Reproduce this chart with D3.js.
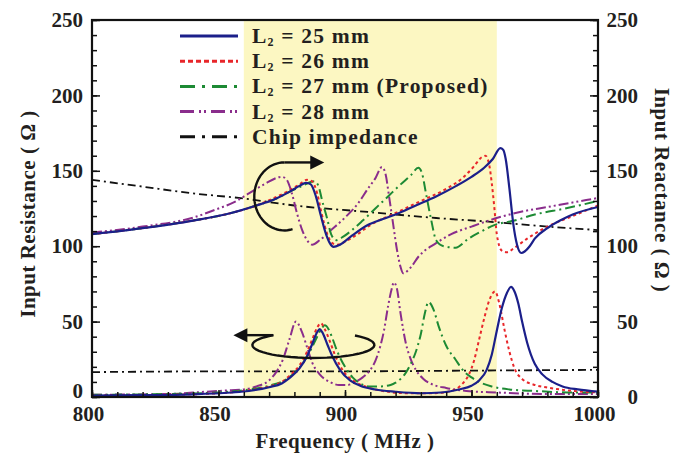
<!DOCTYPE html>
<html>
<head>
<meta charset="utf-8">
<script src="https://cdn.jsdelivr.net/npm/d3@7"></script>
<style>
  body { margin: 0; background: #fff; }
  svg text { font-family: "Liberation Serif", "Times New Roman", "DejaVu Serif", serif !important; font-weight: bold; fill: #231f20; }
</style>
</head>
<body>
<svg id="chart" width="691" height="455"></svg>
<script>
// frequency ticks and value ticks
var freqTicks = [800, 850, 900, 950, 1000];
var ohmTicks = [0, 50, 100, 150, 200, 250];
var bandRange = [860, 960];

// input resistance (left axis), [MHz, ohm]
var res25 = [[800,1],[820,1.2],[840,1.8],[855,3],[862,4],[870,6.5],[875,9],[878,12.5],[882,19],[885,27],[887,35],[889,43],[890,45],[891,43],[893,35],[895,27],[898,18],[902,11],[906,7.5],[912,5],[920,3.5],[930,2.5],[938,3],[945,5],[950,7.5],[953,11],[956,18],[958,28],[960,44],[962,59],[964,69],[965.6,73],[967,70],[968.5,62],[970,50],[972,36],[975,22],[978,15],[982,10],[986,7],[992,5],[1000,3.5]];
var res26 = [[800,1],[830,1.5],[850,2.5],[860,4],[870,7],[875,10],[878,14],[882,21],[885,30],[887,38],[889,46],[890.4,49],[892,45],[894,37],[896,28],[899,18],[903,11],[908,7],[915,4],[925,2.5],[935,2.5],[942,4],[946,8],[949,15],[951,24],[953,38],[955,52],[957,64],[959.3,70],[961,62],[963,45],[965,30],[967,19],[970,12],[975,8],[981,6],[990,4],[1000,3]];
var res27 = [[800,1.5],[830,2],[850,3],[860,4.5],[870,7.5],[876,11],[880,16],[884,24],[887,33],[889,40],[891,46],[892,47.5],[893.5,45],[895,39],[897,30],[900,20],[903,13],[906,9],[910,7],[914,7],[918,8],[920,9.5],[922,12],[924,16],[926,22],[928,30],[930,42],[931.5,55],[933,63],[935,58],[937,47],[940,34],[943.6,25],[947,17],[950,13],[953,10],[958,7],[965,5],[975,4],[990,3],[1000,3]];
var res28 = [[800,1.5],[830,2],[845,3.5],[855,4.5],[860,5],[865,7],[870,11],[873,17],[875.5,25],[878,38],[880.6,50],[883,43],[885,33],[887,23],[890,15],[894,10],[897.6,8],[901,8],[904,10],[907,13],[910,18],[912,24],[914,34],[915.4,44],[917,60],[918.5,72],[919.3,76],[920.5,72],[922,55],[924,36],[926,25],[928,18],[931,12],[935,8],[940,6],[948,4],[960,3],[980,2],[1000,2]];
var resChip = [[800,16.5],[850,17],[900,17],[950,17.5],[1000,18]];

// input reactance (right axis), [MHz, ohm]
var reac25 = [[800,108],[820,112],[840,117],[855,122],[865,127],[872,131],[878,136],[882,140],[884.6,142],[886.5,141],[888.5,133],[890.5,120],[892.5,108],[894,102],[895.5,99.5],[898,101],[902,106],[909,114],[915,118],[920,121],[928,127],[936,133],[944,140],[950,146],[955,152],[958.5,158],[961.4,165],[962.5,164],[963.5,158],[965,138],[966.5,115],[968,101],[969.7,95.5],[971,96.5],[973,100],[975,105],[980,112],[985,117],[990,121],[1000,126]];
var reac26 = [[800,108],[820,112],[840,117],[855,122],[865,127],[872,132],[878,137],[882,141],[885,144],[887,143],[889,135],[891,120],[893,108],[895,102],[897,101],[900,103],[905,108],[910,114],[920,122],[930,130],[940,138],[947,146],[951,153],[954,159],[955.5,160],[957,154],[958,142],[959,126],[960,108],[962,97],[964,96],[967,99],[972,105],[980,113],[990,120],[1000,127]];
var reac27 = [[800,108],[820,112],[840,117],[855,122],[865,127],[872,131],[878,136],[883,140],[888,143],[889.5,140],[891,130],[893,118],[894.5,108],[896.5,104],[899,106],[903,111],[907,117],[912,125],[917,133],[922,141],[926,147],[929,152],[930.5,148],[932,135],[934,118],[936,104],[939,100],[943.7,99],[948.8,105],[953,109],[959,114],[967,117],[975,121],[987,125],[1000,130]];
var reac28 = [[800,109],[820,113],[840,119],[850,125],[856,129],[862,135],[868,141],[875,146],[877,144],[879,135],[881,122],[883,111],[885,104],[887,101],[890,104],[894,110],[900,119],[905,128],[909,138],[912,145],[914.6,152.5],[916,148],[917.5,132],[919,115],[920.5,98],[922,86],[923,82],[926,86],[929,93],[936,102],[942,108],[950,113],[960.6,119],[970,123],[980,126],[990,129],[1000,132]];
var reacChip = [[800,144],[820,139.5],[840,135],[858,132],[880,127],[909,122.7],[936,118.7],[959,116],[980,113],[1000,110.7]];

var series = [
  { name: "L2 = 25 mm", sub: "25 mm", res: res25, reac: reac25, color: "#1b1f8a", width: 2.2, dash: null, legDash: null },
  { name: "L2 = 26 mm", sub: "26 mm", res: res26, reac: reac26, color: "#e8262a", width: 2, dash: "3,3", legDash: "5,3" },
  { name: "L2 = 27 mm (Proposed)", sub: "27 mm (Proposed)", res: res27, reac: reac27, color: "#1d8a34", width: 2, dash: "10,4,2,4", legDash: "15,7,3,7" },
  { name: "L2 = 28 mm", sub: "28 mm", res: res28, reac: reac28, color: "#8a2d8c", width: 2, dash: "10,3,2,3,2,3", legDash: "14,5,2,3,2,5" },
  { name: "Chip impedance", sub: null, res: resChip, reac: reacChip, color: "#111", width: 1.8, dash: "8,4,2,4", legDash: "15,7,3,7" }
];

var margin = {top: 20, right: 93, bottom: 58, left: 92},
    width = 691 - margin.left - margin.right,
    height = 455 - margin.top - margin.bottom;

var svg = d3.select("#chart")
  .append("g")
    .attr("transform", "translate(" + margin.left + "," + margin.top + ")");

var x = d3.scaleLinear().domain([800, 1000]).range([0, width]);
var y = d3.scaleLinear().domain([0, 250]).range([height, 0]);
var yR = d3.scaleLinear().domain([0, 250]).range([height, 0]);

svg.append("clipPath").attr("id", "clip")
  .append("rect").attr("width", width).attr("height", height);

// operating band
svg.append("rect")
  .attr("x", x(bandRange[0]))
  .attr("width", x(bandRange[1]) - x(bandRange[0]))
  .attr("y", 0)
  .attr("height", height)
  .attr("fill", "#fcf7c2");

var plot = svg.append("g").attr("clip-path", "url(#clip)");

var lineL = d3.line().x(function(d) { return x(d[0]); }).y(function(d) { return y(d[1]); }).curve(d3.curveMonotoneX);
var lineR = d3.line().x(function(d) { return x(d[0]); }).y(function(d) { return yR(d[1]); }).curve(d3.curveMonotoneX);

// draw chip first, blue last
[4, 3, 2, 1, 0].forEach(function(i) {
  var s = series[i];
  [lineL(s.res), lineR(s.reac)].forEach(function(p) {
    plot.append("path")
      .attr("d", p)
      .attr("fill", "none")
      .attr("stroke", s.color)
      .attr("stroke-width", s.width)
      .attr("stroke-dasharray", s.dash);
  });
});

// ticks
function minorMajor(axisFn, scale, minorVals, majorVals, g, minorLen, majorLen, pad) {
  g.append("g").call(axisFn(scale).tickValues(minorVals).tickSizeInner(-minorLen).tickSizeOuter(0).tickFormat(""));
  return g.append("g").call(axisFn(scale).tickValues(majorVals).tickSizeInner(-majorLen).tickSizeOuter(0).tickPadding(pad).tickFormat(d3.format("d")));
}

var xg = svg.append("g").attr("transform", "translate(0," + height + ")");
var xMaj = minorMajor(d3.axisBottom, x, d3.range(800, 1001, 10), freqTicks, xg, 5, 7, 9);
xMaj.selectAll("text").attr("dx", "-4");

var ylg = svg.append("g");
var yMaj = minorMajor(d3.axisLeft, y, d3.range(0, 251, 10), ohmTicks, ylg, 5, 8, 9);
yMaj.selectAll("text").filter(function(d) { return d === 0; }).attr("dy", "0em");

var yrg = svg.append("g").attr("transform", "translate(" + width + ",0)");
var yrMaj = minorMajor(d3.axisRight, yR, d3.range(0, 251, 10), ohmTicks, yrg, 5, 8, 9);
yrMaj.selectAll("text").attr("text-anchor", "end").attr("x", 40);

svg.selectAll(".domain").remove();
svg.selectAll(".tick line").attr("stroke", "#111").attr("stroke-width", 1.5);
svg.selectAll(".tick text").style("font-size", "21px").attr("fill", "#231f20");
svg.selectAll("g").attr("font-family", null);

// frame
svg.append("rect")
  .attr("width", width).attr("height", height)
  .attr("fill", "none").attr("stroke", "#111").attr("stroke-width", 2.2);

// axis titles
svg.append("text")
  .attr("x", width / 2).attr("y", height + 51)
  .attr("text-anchor", "middle").style("font-size", "21px").style("letter-spacing", "0.5px")
  .text("Frequency ( MHz )");

svg.append("text")
  .attr("transform", "translate(" + (35 - margin.left) + "," + 194 + ") rotate(-90)")
  .attr("text-anchor", "middle").style("font-size", "21px").style("letter-spacing", "0.5px")
  .text("Input  Resistance ( \u03A9 )");

svg.append("text")
  .attr("transform", "translate(" + (655 - margin.left) + "," + 170 + ") rotate(90)")
  .attr("text-anchor", "middle").style("font-size", "21px").style("letter-spacing", "0.5px")
  .text("Input  Reactance ( \u03A9 )");

// legend
var legend = svg.append("g").attr("transform", "translate(" + (180 - margin.left) + "," + (36 - margin.top) + ")");
series.forEach(function(s, i) {
  var row = legend.append("g").attr("transform", "translate(0," + (i * 25.2) + ")");
  row.append("line")
    .attr("x1", 0).attr("x2", 58).attr("y1", 0).attr("y2", 0)
    .attr("stroke", s.color).attr("stroke-width", 3)
    .attr("stroke-dasharray", s.legDash);
  var t = row.append("text").attr("x", 72).attr("y", 7).style("font-size", "21.5px").style("letter-spacing", "1.2px");
  if (s.sub) {
    t.append("tspan").text("L");
    t.append("tspan").attr("dy", 3).style("font-size", "12px").text("2");
    t.append("tspan").attr("dy", -3).text(" = " + s.sub);
  } else {
    t.text(s.name);
  }
});

// rotation arrows
function openEllipse(cx, cy, rx, ry, a0, a1) {
  var pts = d3.range(0, 41).map(function(k) {
    var a = (a0 + (a1 - a0) * k / 40) * Math.PI / 180;
    return [cx + rx * Math.cos(a), cy + ry * Math.sin(a)];
  });
  return d3.line()(pts);
}
var ann = svg.append("g").attr("fill", "none").attr("stroke", "#111").attr("stroke-width", 2.4);

// reactance -> right axis
var c1 = [x(876), yR(133)];
ann.append("path").attr("d", openEllipse(c1[0], c1[1], 30, 34, 270, 74));
ann.append("line").attr("x1", c1[0]).attr("y1", c1[1] - 34).attr("x2", c1[0] + 28).attr("y2", c1[1] - 34);
svg.append("path")
  .attr("d", "M" + (c1[0] + 40) + "," + (c1[1] - 34) + " l-14,-7 l0,14 z")
  .attr("fill", "#111");

// resistance -> left axis
var c2 = [x(887.5), y(34.5)];
ann.append("path").attr("d", openEllipse(c2[0], c2[1], 61, 13, 229, -47));
var sx = c2[0] + 61 * Math.cos(229 * Math.PI / 180), sy = c2[1] + 13 * Math.sin(229 * Math.PI / 180);
ann.append("line").attr("x1", sx).attr("y1", sy).attr("x2", sx - 28).attr("y2", sy);
svg.append("path")
  .attr("d", "M" + (sx - 40) + "," + sy + " l14,-7 l0,14 z")
  .attr("fill", "#111");
</script>
</body>
</html>
